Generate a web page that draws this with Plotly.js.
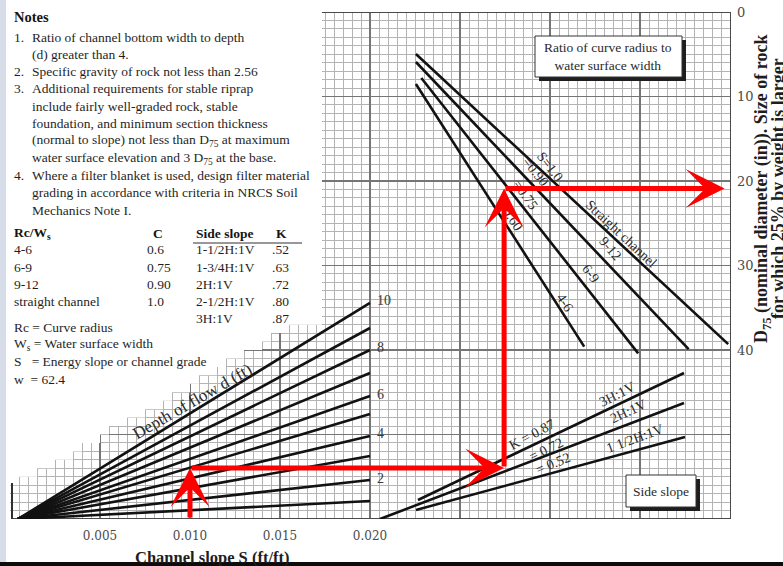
<!DOCTYPE html>
<html>
<head>
<meta charset="utf-8">
<script src="https://cdn.plot.ly/plotly-3.0.1.min.js"></script>
<style>
  html, body { margin: 0; padding: 0; background: #ffffff; }
  #chart { width: 783px; height: 566px; }
</style>
</head>
<body>
<div id="chart"></div>
<script>
// ---- Channel slope axis (ft/ft) ----
const slopeTicks = [0.005, 0.010, 0.015, 0.020, 0.025, 0.030, 0.035, 0.040];
const slopeTickText = ['0.005', '0.010', '0.015', '0.020', '', '', '', ''];

// ---- Depth of flow lines: depth d (ft) and bed shear reached at S = 0.020 ----
const depths = [1, 2, 3, 4, 5, 6, 7, 8, 9, 10];
const shearAtEnd = [1.04, 2.25, 3.64, 4.80, 6.07, 7.11, 8.44, 9.77, 11.04, 12.49];
const depthSlopeStart = 0.00044;
const depthSlopeEnd = 0.020;
const labelledDepths = [2, 4, 6, 8, 10];

// ---- Curve radius lines (C factor): stress column -> D75 (in) ----
const curveC = [1.0, 0.90, 0.75, 0.60];
const curveX0 = [45.1, 45.1, 45.7, 45.1];
const curveY0 = [4.97, 5.92, 7.81, 8.52];
const curveX1 = [79.8, 75.4, 69.8, 63.8];
const curveY1 = [39.3, 39.9, 40.4, 39.6];

// ---- Side slope lines (K factor) ----
const sideK = [0.87, 0.72, 0.52];
const sideX0 = [45.33, 41.11, 45.11];
const sideY0 = [57.75, 60.0, 58.93];
const sideX1 = [74.89, 74.89, 75.0];
const sideY1 = [42.72, 46.27, 50.30];

// ---- D75 axis (in) ----
const d75Ticks = [0, 10, 20, 30, 40, 50];
const d75TickText = ['0', '10', '20', '30', '40', ''];

// ---- Worked example: S = 0.010 through to D75 ----
const exampleX = [20, 20, 54.9, 54.9, 79.4];
const exampleY = [60, 53.96, 53.96, 20.9, 20.9];

// ---- Tables printed beside the chart ----
const rcRanges = ['4-6', '6-9', '9-12', 'straight channel'];
const rcC = ['0.6', '0.75', '0.90', '1.0'];
const sideSlopes = ['1-1/2H:1V', '1-3/4H:1V', '2H:1V', '2-1/2H:1V', '3H:1V'];
const sideSlopeK = ['.52', '.63', '.72', '.80', '.87'];

const notes = [
  ['1.', 'Ratio of channel bottom width to depth'],
  ['', '(d) greater than 4.'],
  ['2.', 'Specific gravity of rock not less than 2.56'],
  ['3.', 'Additional requirements for stable riprap'],
  ['', 'include fairly well-graded rock, stable'],
  ['', 'foundation, and minimum section thickness'],
  ['', '(normal to slope) not less than D<sub>75</sub> at maximum'],
  ['', 'water surface elevation and 3 D<sub>75</sub> at the base.'],
  ['4.', 'Where a filter blanket is used, design filter material'],
  ['', 'grading in accordance with criteria in NRCS Soil'],
  ['', 'Mechanics Note I.']
];
const symbols = [
  'Rc = Curve radius',
  'W<sub>s</sub> = Water surface width',
  'S&nbsp;&nbsp; = Energy slope or channel grade',
  'w&nbsp; = 62.4'
];

// ---- page geometry (pixels) ----
const L = 10, R = 731, T = 12, B = 519;
const fx = p => (p - L) / (R - L);
const fy = p => (B - p) / (B - T);
// pixel -> main axes (slope, D75) for shapes that sit between grid and lines
const sx = p => (p - L) / 18000;
const dy = p => (p - T) / ((B - T) / 60);

const SERIF = 'Liberation Serif, Times New Roman, serif';
const SERIF2 = 'DejaVu Serif, serif';
const INK = '#1f1f1f';
const LINE = '#121212';

const traces = [];

// base subplot (carries the slope and D75 axes)
traces.push({ type: 'scatter', mode: 'markers', x: [0.03], y: [30], marker: { opacity: 0 }, hoverinfo: 'skip', showlegend: false });

// depth of flow fan
depths.forEach((d, i) => {
  traces.push({
    type: 'scatter', mode: 'lines', xaxis: 'x', yaxis: 'y2',
    x: [depthSlopeStart, depthSlopeEnd], y: [0, shearAtEnd[i]],
    line: { color: LINE, width: 2.6 }, hoverinfo: 'skip', showlegend: false
  });
});

// curve radius lines
curveC.forEach((c, i) => {
  traces.push({
    type: 'scatter', mode: 'lines', xaxis: 'x2', yaxis: 'y',
    x: [curveX0[i], curveX1[i]], y: [curveY0[i], curveY1[i]],
    line: { color: LINE, width: 2.6 }, hoverinfo: 'skip', showlegend: false
  });
});

// side slope lines
sideK.forEach((k, i) => {
  traces.push({
    type: 'scatter', mode: 'lines', xaxis: 'x2', yaxis: 'y',
    x: [sideX0[i], sideX1[i]], y: [sideY0[i], sideY1[i]],
    line: { color: LINE, width: 2.6 }, hoverinfo: 'skip', showlegend: false
  });
});

// ---- white staircase behind the notes ----
const stairGuideX = [10, 60, 100, 150, 190, 240, 290, 322];
const stairGuideY = [483, 462, 437, 412, 386, 356, 327, 322];
function guideAt(x) {
  for (let i = 0; i < stairGuideX.length - 1; i++) {
    if (x <= stairGuideX[i + 1]) {
      const t = (x - stairGuideX[i]) / (stairGuideX[i + 1] - stairGuideX[i]);
      return stairGuideY[i] + t * (stairGuideY[i + 1] - stairGuideY[i]);
    }
  }
  return stairGuideY[stairGuideY.length - 1];
}
const rowH = (B - T) / 60, colW = 9;
let path = `M ${sx(5)} ${dy(5)} L ${sx(5)} ${dy(483)}`;
let xc = 10;
while (xc < 322) {
  const xn = Math.min(xc + colW, 322);
  const g = guideAt((xc + xn) / 2);
  const rows = Math.round((B - g) / rowH);
  const yTop = B - rows * rowH;
  path += ` L ${sx(xc)} ${dy(yTop)} L ${sx(xn)} ${dy(yTop)}`;
  xc = xn;
}
path += ` L ${sx(322)} ${dy(5)} Z`;

const ax = { xref: 'x', yref: 'y', layer: 'between' };
const shapes = [
  Object.assign({ type: 'path', path: path, fillcolor: '#ffffff', line: { width: 0 } }, ax),
  // frame
  Object.assign({ type: 'line', x0: sx(322), x1: sx(732), y0: dy(12), y1: dy(12), line: { color: '#4a4a4a', width: 2 } }, ax),
  Object.assign({ type: 'line', x0: sx(731), x1: sx(731), y0: dy(12), y1: dy(520), line: { color: '#4a4a4a', width: 2 } }, ax),
  Object.assign({ type: 'line', x0: sx(11), x1: sx(732), y0: dy(519), y1: dy(519), line: { color: '#4a4a4a', width: 2 } }, ax),
  Object.assign({ type: 'line', x0: sx(12), x1: sx(12), y0: dy(483), y1: dy(520), line: { color: '#303030', width: 2 } }, ax),
  // boxes with drop shadows
  { type: 'rect', xref: 'paper', yref: 'paper', x0: fx(539), x1: fx(686), y0: fy(40), y1: fy(81), fillcolor: '#1e1e1e', line: { width: 0 }, layer: 'above' },
  { type: 'rect', xref: 'paper', yref: 'paper', x0: fx(535), x1: fx(682), y0: fy(36), y1: fy(77), fillcolor: '#ffffff', line: { color: '#333', width: 1 }, layer: 'above' },
  { type: 'rect', xref: 'paper', yref: 'paper', x0: fx(630), x1: fx(700), y0: fy(479), y1: fy(511), fillcolor: '#1e1e1e', line: { width: 0 }, layer: 'above' },
  { type: 'rect', xref: 'paper', yref: 'paper', x0: fx(626), x1: fx(696), y0: fy(475), y1: fy(507), fillcolor: '#ffffff', line: { color: '#333', width: 1 }, layer: 'above' },
  // page edges: pale strip on the left, dark band at the foot
  { type: 'rect', xref: 'paper', yref: 'paper', x0: fx(-2), x1: fx(6), y0: fy(-5), y1: fy(562), fillcolor: '#d6dde8', line: { width: 0 }, layer: 'above' },
  { type: 'rect', xref: 'paper', yref: 'paper', x0: fx(-5), x1: fx(790), y0: fy(562), y1: fy(570), fillcolor: '#0c0c0c', line: { width: 0 }, layer: 'above' }
];

const annotations = [];
function txt(text, x, y, o) {
  o = o || {};
  annotations.push(Object.assign({
    text: text, xref: 'paper', yref: 'paper', x: fx(x), y: fy(y),
    xanchor: 'left', yanchor: 'middle', showarrow: false,
    font: { family: SERIF, size: 13.5, color: INK }
  }, o));
}

// notes block
txt('C×R', 40, 2, { yanchor: 'bottom', font: { family: SERIF, size: 13, color: '#666' } });
txt('<b>Notes</b>', 12, 17, { font: { family: SERIF, size: 14.5, color: '#141414' } });
notes.forEach((n, i) => {
  const y = 37 + i * 17.3;
  if (n[0]) txt(n[0], 12, y);
  txt(n[1], 30, y);
});

// C and K tables
const HEAD = { family: SERIF, size: 13.5, color: '#141414' };
txt('<b>Rc/W<sub>s</sub></b>', 12, 233, { font: HEAD });
txt('<b>C</b>', 151, 233, { font: HEAD });
txt('<b>Side slope</b>', 194, 233, { font: HEAD });
txt('<b>K</b>', 274, 233, { font: HEAD });
shapes.push({ type: 'line', xref: 'paper', yref: 'paper', x0: fx(193), x1: fx(302), y0: fy(243), y1: fy(243), line: { color: '#333', width: 1.2 }, layer: 'above' });
rcRanges.forEach((r, i) => {
  txt(r, 12, 250 + i * 17);
  txt(rcC[i], 145, 250 + i * 17);
});
sideSlopes.forEach((s, i) => {
  txt(s, 194, 250 + i * 17);
  txt(sideSlopeK[i], 270, 250 + i * 17);
});
symbols.forEach((s, i) => txt(s, 12, 327 + i * 17.4));

// depth labels at line ends
labelledDepths.forEach(d => {
  const i = depths.indexOf(d);
  annotations.push({
    text: String(d), xref: 'x', yref: 'y2', x: depthSlopeEnd, y: shearAtEnd[i],
    xanchor: 'left', yanchor: 'middle', xshift: 5, yshift: 2, showarrow: false,
    font: { family: SERIF, size: 14, color: '#3a3a3a' }
  });
});
txt('Depth of flow d (ft)', 192, 401, { xanchor: 'center', textangle: -30, font: { family: SERIF, size: 17, color: '#2a2a2a' } });

// curve radius labels
const LAB = { family: SERIF, size: 14, color: '#2a2a2a' };
const curveLabels = [
  ['S=1.0', 550, 166, 52], ['=0.90', 535, 172, 52], ['=0.75', 525, 195, 55], ['=0.60', 510, 216, 57],
  ['Straight channel', 621, 233, 43], ['9-12', 610, 249, 49], ['6-9', 591, 273, 53], ['4-6', 565, 302, 57]
];
curveLabels.forEach(c => txt(c[0], c[1], c[2], { xanchor: 'center', textangle: c[3], font: LAB }));

// side slope labels
const sideLabels = [
  ['K = 0.87', 532, 434, -28], ['= 0.72', 546, 449, -26], ['= 0.52', 553, 463, -22],
  ['3H:1V', 617, 394, -27], ['2H:1V', 628, 411, -25], ['1 1/2H:1V', 635, 438, -20]
];
sideLabels.forEach(c => txt(c[0], c[1], c[2], { xanchor: 'center', textangle: c[3], font: LAB }));

// box captions
txt('Ratio of curve radius to<br>water surface width', 608, 56, { xanchor: 'center', font: { family: SERIF, size: 13.5, color: '#2a2a2a' } });
txt('Side slope', 661, 491, { xanchor: 'center', font: { family: SERIF, size: 13.5, color: '#2a2a2a' } });

// axis captions
txt('<b>Channel slope S (ft/ft)</b>', 212, 557, { xanchor: 'center', font: { family: SERIF, size: 16.5, color: '#1e1e1e' } });
txt('<b>D<sub>75</sub> (nominal diameter (in)). Size of rock</b>', 762, 189, { xanchor: 'center', textangle: -90, font: { family: SERIF, size: 18, color: '#1e1e1e' } });
txt('<b>for which 25% by weight is larger</b>', 778, 189, { xanchor: 'center', textangle: -90, font: { family: SERIF, size: 18, color: '#1e1e1e' } });

// worked example arrows
for (let i = 0; i < exampleX.length - 1; i++) {
  annotations.push({
    text: '', xref: 'x2', yref: 'y', axref: 'x2', ayref: 'y',
    x: exampleX[i + 1], y: exampleY[i + 1], ax: exampleX[i], ay: exampleY[i],
    showarrow: true, arrowhead: 3, arrowsize: 1.3, arrowwidth: 5, arrowcolor: '#ff0000', standoff: 0, startstandoff: 0
  });
}

const layout = {
  width: 783, height: 566,
  margin: { l: L, r: 783 - R, t: T, b: 566 - B },
  paper_bgcolor: '#ffffff', plot_bgcolor: '#ffffff',
  showlegend: false,
  xaxis: {
    range: [0, (R - L) / 18000], tickmode: 'array', tickvals: slopeTicks, ticktext: slopeTickText,
    showgrid: true, gridcolor: '#757575', gridwidth: 1.4, zeroline: false, showline: false, ticks: '',
    ticklabelstandoff: 8,
    tickfont: { family: SERIF2, size: 12, color: '#4a4a4a' },
    minor: { tickmode: 'linear', tick0: 0, dtick: 0.0005, showgrid: true, gridcolor: '#b3b3b3', gridwidth: 1, ticks: '' }
  },
  yaxis: {
    range: [60, 0], side: 'right', tickmode: 'array', tickvals: d75Ticks, ticktext: d75TickText,
    showgrid: true, gridcolor: '#757575', gridwidth: 1.4, zeroline: false, showline: false, ticks: '',
    ticklabelstandoff: 5,
    tickfont: { family: SERIF2, size: 13, color: '#4a4a4a' },
    minor: { tickmode: 'linear', tick0: 0, dtick: 1, showgrid: true, gridcolor: '#b3b3b3', gridwidth: 1, ticks: '' }
  },
  xaxis2: { overlaying: 'x', range: [0, (R - L) / 9], visible: false },
  yaxis2: { overlaying: 'y', range: [0, (B - T) / 17.3], visible: false },
  shapes: shapes,
  annotations: annotations
};

Plotly.newPlot('chart', traces, layout, { staticPlot: true, displayModeBar: false });
</script>
</body>
</html>
